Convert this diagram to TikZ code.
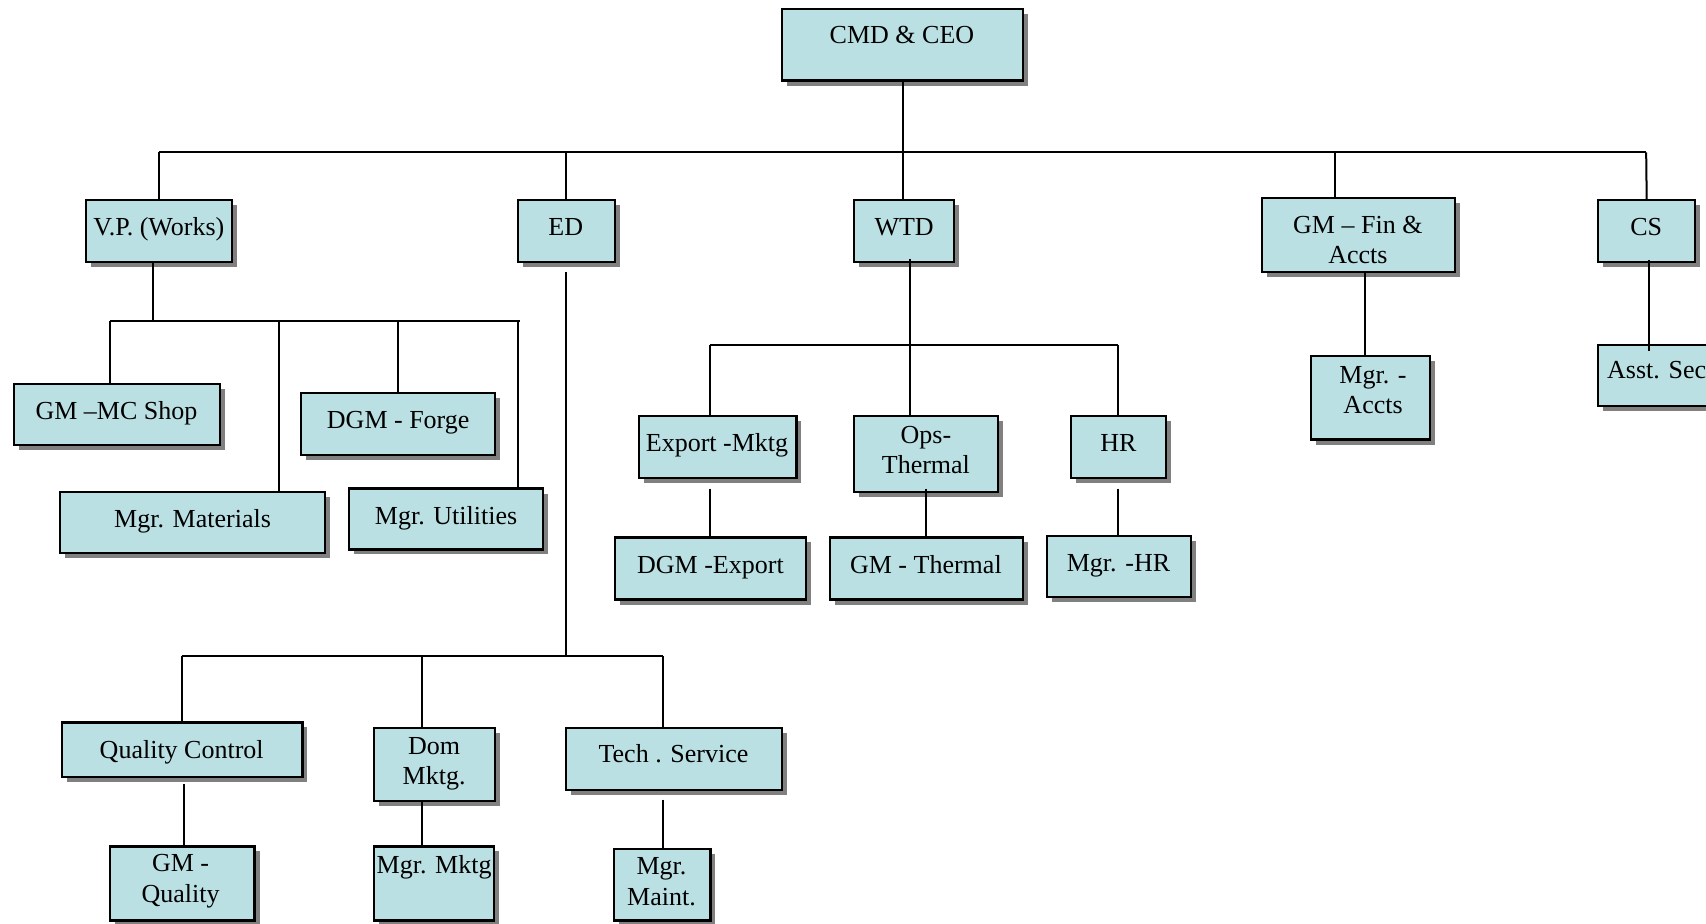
\documentclass[tikz,border=0pt]{standalone}
\usepackage{fontspec}
\setmainfont{Liberation Serif}
\usetikzlibrary{shadows}
\definecolor{boxfill}{RGB}{187,224,227}
\definecolor{shadegray}{RGB}{128,128,128}
\newcommand\obox[5]{\node[obox, minimum width={(#4-#2)*1.088}, minimum height={(#5-#3)*1.088}] (#1) at ({(#2+#4)/2},{(#3+#5)/2}) {};}
\begin{document}
\begin{tikzpicture}[x=1.088pt,y=-1.088pt,
  obox/.style={draw=black, line width=2.2pt, fill=boxfill, inner sep=0pt, outer sep=0pt,
    drop shadow={shadow xshift=5pt, shadow yshift=-5pt, opacity=1, fill=shadegray}},
  otxt/.style={align=center, font=\fontsize{26}{30.5}\selectfont, inner sep=0pt, yshift=-2.8pt},
  conn/.style={line width=2pt}]
\clip (0,0) rectangle (1568,849);
\fill[white] (0,0) rectangle (1568,849);
% boxes
\obox{cmd}{719}{8}{940}{74}
\obox{vp}{79}{184}{213}{241}
\obox{ed}{476}{184}{565}{241}
\obox{wtd}{785}{184}{877}{241}
\obox{fin}{1160}{182}{1337}{250}
\obox{cs}{1469}{184}{1558}{241}
\obox{mcs}{13}{353}{202}{409}
\obox{forge}{277}{361}{455}{418}
\obox{mat}{55}{452}{299}{508}
\obox{util}{321}{449}{499}{505}
\obox{exp}{587}{382}{732}{439}
\obox{ops}{785}{382}{917}{452}
\obox{hr}{984}{382}{1072}{439}
\obox{dgmexp}{565}{494}{741}{551}
\obox{gmt}{763}{494}{940}{551}
\obox{mhr}{962}{493}{1095}{549}
\obox{accts}{1205}{327}{1314}{404}
\obox{asst}{1469}{317}{1600}{373}
\obox{qc}{57}{664}{278}{714}
\obox{dom}{344}{669}{455}{736}
\obox{tech}{520}{669}{719}{726}
\obox{gmq}{101}{778}{234}{846}
\obox{mmk}{344}{778}{454}{846}
\obox{maint}{564}{780}{653}{846}
% texts
\node[otxt] (t-cmd) at (829,32) {\strut CMD \& CEO};
\node[otxt] (t-vp) at (146,208) {\strut V.P. (Works)};
\node[otxt] (t-ed) at (520,208) {\strut ED};
\node[otxt] (t-wtd) at (831,208) {\strut WTD};
\node[otxt] (t-fin) at (1248,220) {\strut GM – Fin \&\\\strut Accts};
\node[otxt] (t-cs) at (1513,208) {\strut CS};
\node[otxt] (t-mcs) at (107,377) {\strut GM –MC Shop};
\node[otxt] (t-forge) at (366,386) {\strut DGM - Forge};
\node[otxt] (t-mat) at (177,477) {\strut Mgr. Materials};
\node[otxt] (t-util) at (410,474) {\strut Mgr. Utilities};
\node[otxt] (t-exp) at (659,407) {\strut Export -Mktg};
\node[otxt] (t-ops) at (851,413) {\strut Ops-\\\strut Thermal};
\node[otxt] (t-hr) at (1028,407) {\strut HR};
\node[otxt] (t-dgmexp) at (653,519) {\strut DGM -Export};
\node[otxt] (t-gmt) at (851,519) {\strut GM - Thermal};
\node[otxt] (t-mhr) at (1028,517) {\strut Mgr. -HR};
\node[otxt] (t-accts) at (1262,358) {\strut Mgr. -\\\strut Accts};
\node[otxt, anchor=west] (t-asst) at (1477,340) {\strut Asst. Sec};
\node[otxt] (t-qc) at (167,689) {\strut Quality Control};
\node[otxt] (t-dom) at (399,699) {\strut Dom\\\strut Mktg.};
\node[otxt] (t-tech) at (619,693) {\strut Tech . Service};
\node[otxt] (t-gmq) at (166,807) {\strut GM -\\\strut Quality};
\node[otxt] (t-mmk) at (399,795) {\strut Mgr. Mktg};
\node[otxt] (t-maint) at (608,810) {\strut Mgr.\\\strut Maint.};
% connectors: top level
\coordinate (b1L) at (146,140);
\coordinate (b1R) at (1513,140);
\coordinate (finj) at (1227,140);
\draw[conn] (cmd.south) -- (cmd.south |- b1L);
\draw[conn] (b1L) -- (b1R);
\draw[conn] (b1L) -- (vp.north);
\draw[conn] (ed.north |- b1L) -- (ed.north);
\draw[conn] (cmd.south |- b1L) -- (cmd.south |- wtd.north);
\draw[conn] (finj) -- (finj |- fin.north);
\draw[conn] (b1R) -- (cs.north);
% V.P. subtree
\coordinate (vpd) at (141,240);
\coordinate (b2L) at (101,295);
\coordinate (b2R) at (478,295);
\coordinate (matj) at (256,295);
\coordinate (utj) at (476,295);
\draw[conn] (vpd) -- (vpd |- b2L);
\draw[conn] (b2L) -- (b2R);
\draw[conn] (b2L) -- (b2L |- mcs.north);
\draw[conn] (matj) -- (matj |- mat.north);
\draw[conn] (forge.north |- b2L) -- (forge.north);
\draw[conn] (utj) -- (utj |- util.north);
% ED subtree
\coordinate (edd) at (520,250);
\coordinate (b3L) at (167,603);
\coordinate (b3R) at (609,603);
\coordinate (domj) at (388,603);
\coordinate (qcd) at (169,721);
\coordinate (techd) at (609,735);
\draw[conn] (edd) -- (edd |- b3L);
\draw[conn] (b3L) -- (b3R);
\draw[conn] (b3L) -- (b3L |- qc.north);
\draw[conn] (domj) -- (domj |- dom.north);
\draw[conn] (b3R) -- (b3R |- tech.north);
\draw[conn] (qcd) -- (qcd |- gmq.north);
\draw[conn] (domj |- dom.south) -- (domj |- mmk.north);
\draw[conn] (techd) -- (techd |- maint.north);
% WTD subtree
\coordinate (wtdd) at (836,238);
\coordinate (b4L) at (653,317);
\coordinate (b4R) at (1028,317);
\coordinate (expd) at (653,449);
\coordinate (opsd) at (851,449);
\coordinate (hrd) at (1028,449);
\draw[conn] (wtdd) -- (wtdd |- ops.north);
\draw[conn] (b4L) -- (b4R);
\draw[conn] (b4L) -- (b4L |- exp.north);
\draw[conn] (b4R) -- (b4R |- hr.north);
\draw[conn] (expd) -- (expd |- dgmexp.north);
\draw[conn] (opsd) -- (opsd |- gmt.north);
\draw[conn] (hrd) -- (hrd |- mhr.north);
% Fin and CS
\coordinate (find) at (1255,250);
\coordinate (csd) at (1516,239);
\coordinate (cse) at (1516,323);
\draw[conn] (find) -- (find |- accts.north);
\draw[conn] (csd) -- (cse);
\end{tikzpicture}
\end{document}
